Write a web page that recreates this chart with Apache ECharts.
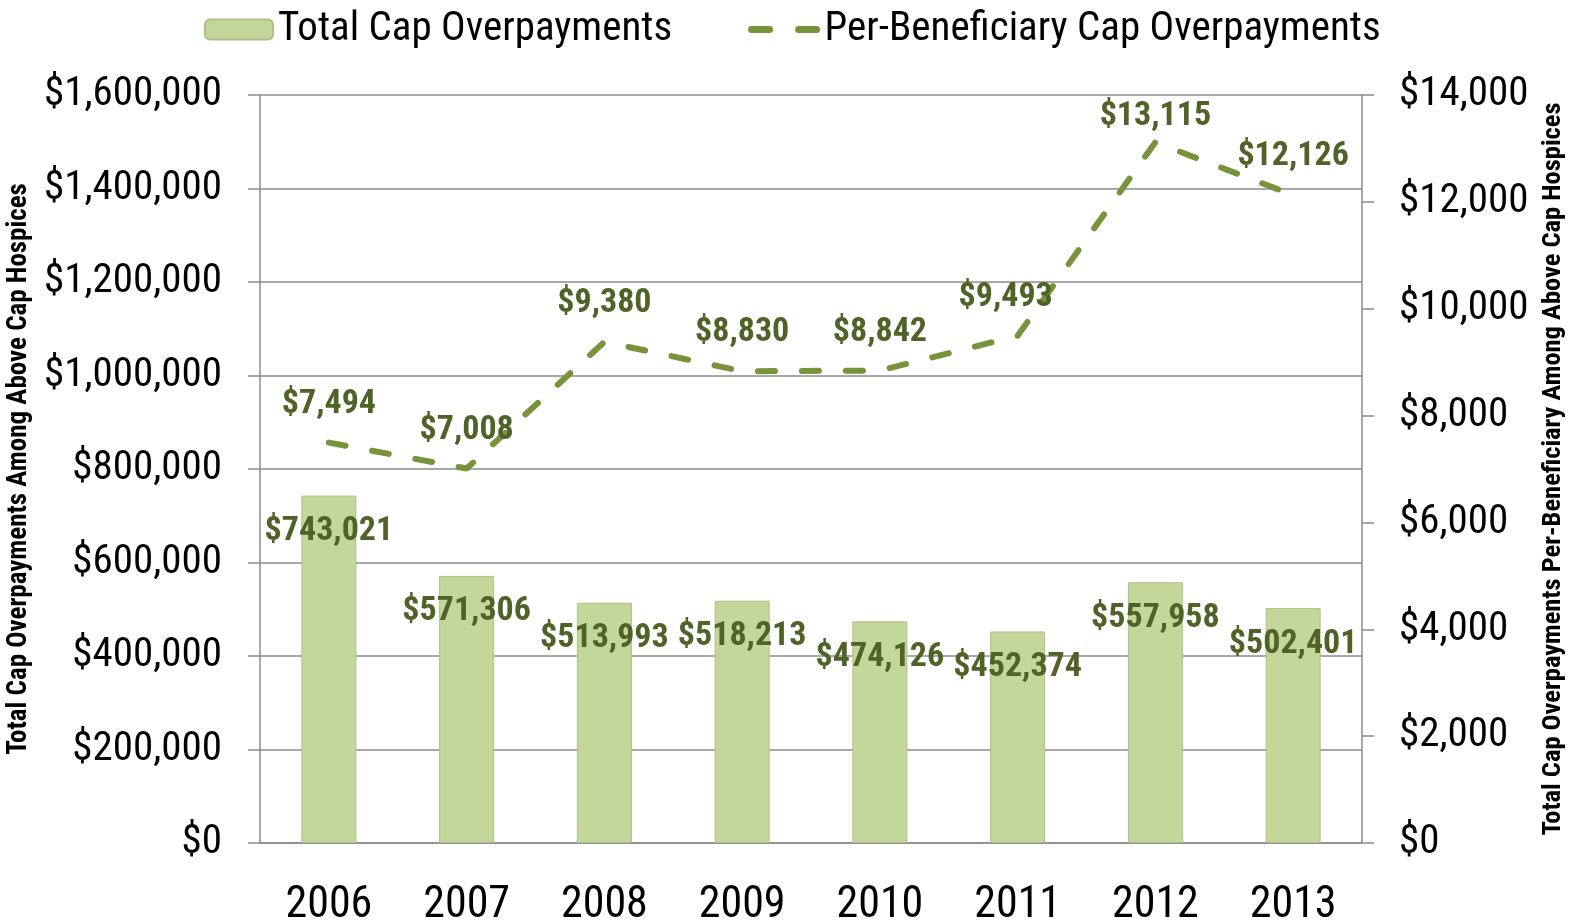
<!DOCTYPE html>
<html>
<head>
<meta charset="utf-8">
<script src="https://cdn.jsdelivr.net/npm/echarts@6/dist/echarts.min.js"></script>
<style>
  html, body {margin: 0; padding: 0; background: #fff;}
  #chart {width: 1575px; height: 924px;}
</style>
</head>
<body>
<div id="chart"></div>
<script>
const FONT = "'Roboto Condensed', 'Liberation Sans', sans-serif";

const years = ["2006", "2007", "2008", "2009", "2010", "2011", "2012", "2013"];
const totalOverpayments = [743021, 571306, 513993, 518213, 474126, 452374, 557958, 502401];
const perBeneficiary = [7494, 7008, 9380, 8830, 8842, 9493, 13115, 12126];

const GREEN_LINE = "#77933c";
const GREEN_TEXT = "#4f6228";
const GRID_GRAY = "#8c8c8c";

// a couple of line labels sit a little off their default spot in the original
const lineLabelOffsets = {5: [-12, 0], 6: [0, 13]};

const money = (v) => "$" + Number(v).toLocaleString("en-US");

const chart = echarts.init(document.getElementById("chart"));

chart.setOption({
  animation: false,
  textStyle: {fontFamily: FONT},
  legend: {
    top: 4,
    left: 199,
    itemWidth: 68,
    itemHeight: 20,
    itemGap: 76,
    textStyle: {fontSize: 41, color: "#000", fontFamily: FONT},
    data: [
      {name: "Total Cap Overpayments"},
      {
        name: "Per-Beneficiary Cap Overpayments",
        itemStyle: {opacity: 0},
        lineStyle: {color: GREEN_LINE, width: 7, type: [18, 29], dashOffset: 0, cap: "round"},
      },
    ],
  },
  grid: {left: 260, right: 213, top: 95, bottom: 81, outerBoundsMode: "none", containLabel: false},
  xAxis: {
    type: "category",
    data: years,
    axisLine: {lineStyle: {color: GRID_GRAY, width: 1.5}},
    axisTick: {length: 18, lineStyle: {color: GRID_GRAY, width: 1.5}},
    axisLabel: {fontSize: 44, color: "#000", margin: 41, interval: 0, fontFamily: FONT},
  },
  yAxis: [
    {
      type: "value",
      min: 0,
      max: 1600000,
      interval: 200000,
      name: "Total Cap Overpayments Among Above Cap Hospices",
      nameLocation: "middle",
      nameGap: 200,
      nameTextStyle: {fontSize: 27, fontWeight: "bold", color: "#000", fontFamily: FONT},
      axisLine: {show: true, lineStyle: {color: GRID_GRAY, width: 1.5}},
      axisTick: {show: true, length: 12, lineStyle: {color: GRID_GRAY, width: 1.5}},
      splitLine: {lineStyle: {color: GRID_GRAY, width: 1.5}},
      axisLabel: {fontSize: 41, color: "#000", margin: 38, formatter: money, fontFamily: FONT},
    },
    {
      type: "value",
      min: 0,
      max: 14000,
      interval: 2000,
      position: "right",
      name: "Total Cap Overpayments Per-Beneficiary Among Above Cap Hospices",
      nameLocation: "middle",
      nameGap: 177,
      nameRotate: 90,
      nameTextStyle: {fontSize: 26.5, fontWeight: "bold", color: "#000", fontFamily: FONT},
      axisLine: {show: true, lineStyle: {color: GRID_GRAY, width: 1.5}},
      axisTick: {show: true, length: 12, lineStyle: {color: GRID_GRAY, width: 1.5}},
      splitLine: {show: false},
      axisLabel: {fontSize: 41, color: "#000", margin: 37, formatter: money, fontFamily: FONT},
    },
  ],
  series: [
    {
      name: "Total Cap Overpayments",
      type: "bar",
      yAxisIndex: 0,
      data: totalOverpayments,
      barWidth: 55,
      itemStyle: {color: "#c4d79b", borderColor: "#aebf85", borderWidth: 1},
      label: {
        show: true,
        position: "insideTop",
        distance: 19,
        fontSize: 34,
        fontWeight: "bold",
        color: GREEN_TEXT,
        fontFamily: FONT,
        formatter: (p) => money(p.value),
      },
    },
    {
      name: "Per-Beneficiary Cap Overpayments",
      type: "line",
      yAxisIndex: 1,
      data: perBeneficiary.map((v, i) =>
        lineLabelOffsets[i] ? {value: v, label: {offset: lineLabelOffsets[i]}} : v),
      symbol: "circle",
      symbolSize: 1,
      showSymbol: true,
      z: 3,
      lineStyle: {color: GREEN_LINE, width: 6, type: [17, 27], cap: "round"},
      itemStyle: {color: "rgba(0,0,0,0)"},
      label: {
        show: true,
        position: "top",
        distance: 21,
        fontSize: 34,
        fontWeight: "bold",
        color: GREEN_TEXT,
        fontFamily: FONT,
        formatter: (p) => money(p.value),
      },
    },
  ],
});
</script>
</body>
</html>
